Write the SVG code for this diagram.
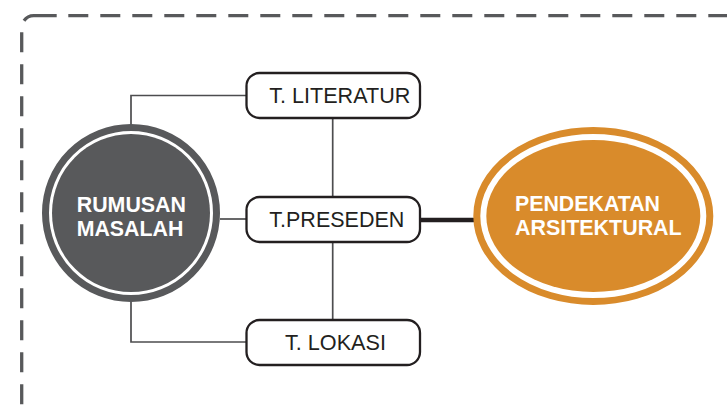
<svg xmlns="http://www.w3.org/2000/svg" width="727" height="410" viewBox="0 0 727 410">
<style>
.border{fill:none;stroke:#58595b;stroke-width:3.3;stroke-dasharray:20 12}
.conn{fill:none;stroke:#4d4d4f;stroke-width:1.7}
.thick{fill:none;stroke:#231f20;stroke-width:4.5}
.box{fill:#fff;stroke:#231f20;stroke-width:2.3}
.lbl{font-family:"Liberation Sans",Arial,sans-serif;font-size:22.5px;fill:#231f20}
.wlbl{font-family:"Liberation Sans",Arial,sans-serif;font-size:22.5px;font-weight:bold;fill:#fff}
</style>
<rect width="727" height="410" fill="#fff"/>
<g id="frame">
<path class="border" d="M21.7 32.3 V410"/>
<path class="border" d="M68.3 15.7 H727"/>
<path d="M24 20.7 A12 12 0 0 1 33.7 15.7 H56.7" fill="none" stroke="#58595b" stroke-width="3.3"/>
</g>
<g id="connectors">
<path class="conn" d="M131 125 V95.5 H246.5"/>
<path class="conn" d="M220 219 H246.5"/>
<path class="conn" d="M131 301 V342 H246.5"/>
<path class="conn" d="M332.7 118 V197"/>
<path class="conn" d="M332.7 242 V320"/>
<path class="thick" d="M420 220 H476"/>
</g>
<g id="rumusan">
<circle cx="131" cy="213" r="85.5" fill="#fff" stroke="#58595b" stroke-width="7"/>
<circle cx="131" cy="213" r="79" fill="#58595b"/>
<text class="wlbl" x="76.7" y="212.3" textLength="109.3" lengthAdjust="spacingAndGlyphs">RUMUSAN</text>
<text class="wlbl" x="76.7" y="235.7" textLength="106.6" lengthAdjust="spacingAndGlyphs">MASALAH</text>
</g>
<g id="literatur">
<rect class="box" x="246.5" y="73" width="173.5" height="45" rx="13"/>
<text class="lbl" x="269.3" y="103.3" textLength="141" lengthAdjust="spacingAndGlyphs">T. LITERATUR</text>
</g>
<g id="preseden">
<rect class="box" x="246.5" y="197" width="173.5" height="45" rx="13"/>
<text class="lbl" x="269.3" y="226.7" textLength="135" lengthAdjust="spacingAndGlyphs">T.PRESEDEN</text>
</g>
<g id="lokasi">
<rect class="box" x="246.5" y="320" width="173.5" height="45" rx="13"/>
<text class="lbl" x="285" y="350" textLength="101" lengthAdjust="spacingAndGlyphs">T. LOKASI</text>
</g>
<g id="pendekatan">
<ellipse cx="593.3" cy="216" rx="116.5" ry="85.5" fill="#fff" stroke="#d98b2b" stroke-width="7"/>
<ellipse cx="593.3" cy="216" rx="107" ry="76" fill="#d98b2b"/>
<text class="wlbl" x="515" y="211" textLength="145" lengthAdjust="spacingAndGlyphs">PENDEKATAN</text>
<text class="wlbl" x="515" y="234.5" textLength="166.7" lengthAdjust="spacingAndGlyphs">ARSITEKTURAL</text>
</g>
</svg>
